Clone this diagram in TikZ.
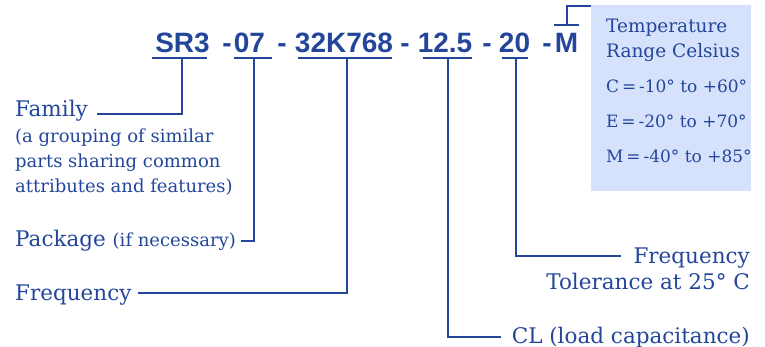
\documentclass[tikz,border=0pt]{standalone}
\usepackage{fontspec}
\setmainfont{DejaVu Serif}
\newfontfamily\partfont{Liberation Sans}
\usetikzlibrary{positioning}
\definecolor{codeblue}{RGB}{35,70,155}
\definecolor{rangefill}{RGB}{214,226,251}
\newcommand\notesize{\fontsize{18}{25}\selectfont}

\begin{document}
\begin{tikzpicture}[x=1pt, y=-1pt,
	partno/.style={font=\partfont\bfseries\fontsize{28}{28}\selectfont, text=codeblue, inner sep=0pt, anchor=base},
	desc/.style={font=\fontsize{21.5}{26}\selectfont, text=codeblue, inner sep=0pt},
	descsmall/.style={font=\notesize, text=codeblue, inner sep=0pt},
	boxtext/.style={font=\fontsize{18.5}{25}\selectfont, text=codeblue, inner sep=0pt, anchor=base west},
	rangetext/.style={boxtext, font=\fontsize{17}{25}\selectfont},
	lead/.style={draw=codeblue, line width=1.3pt}]
	\useasboundingbox (0,0) rectangle (765,347);

	\node[partno] (pfam) at (182.5,53) {SR3};
	\node[partno] (ppkg) at (249.5,53) {07};
	\node[partno] (pfreq) at (344,53) {32K768};
	\node[partno] (pcl) at (445,53) {12.5};
	\node[partno] (ptol) at (514.5,53) {20};
	\node[partno] (ptemp) at (566.5,53) {M};
	\foreach \x [count=\i] in {227,282,405,487,547}
		\node[partno] (dash\i) at (\x,53) {-};
	\draw[lead] ([xshift=-3pt,yshift=-5pt]pfam.base west) -- ([xshift=-3pt,yshift=-5pt]pfam.base east);
	\draw[lead] ([yshift=-5pt]ppkg.base west) -- ([xshift=7pt,yshift=-5pt]ppkg.base east);
	\draw[lead] ([xshift=3pt,yshift=-5pt]pfreq.base west) -- ([xshift=-1pt,yshift=-5pt]pfreq.base east);
	\draw[lead] ([xshift=5pt,yshift=-5pt]pcl.base west) -- ([yshift=-5pt]pcl.base east);
	\draw[lead] ([xshift=3pt,yshift=-5pt]ptol.base west) -- ([xshift=-2pt,yshift=-5pt]ptol.base east);
	\draw[lead] ([xshift=-1pt,yshift=28pt]ptemp.base west) -- ([xshift=1pt,yshift=28pt]ptemp.base east);

	\node[fill=rangefill, inner sep=0pt, minimum width=160, minimum height=186, anchor=north west] (trange) at (591,5) {};
	\node[boxtext, align=left] (ltemp) at (606,58) {Temperature\\Range Celsius};
	\node[rangetext] (lrc) at (606,93) {C\,=\,-10° to +60°};
	\node[rangetext] (lre) at (606,128) {E\,=\,-20° to +70°};
	\node[rangetext] (lrm) at (606,163) {M\,=\,-40° to +85°};

	\node[desc, anchor=base west] (lfam) at (15,117) {Family};
	\node[descsmall, anchor=base west, align=left] (lfamnote) at (15,193) {(a grouping of similar\\parts sharing common\\attributes and features)};
	\node[desc, anchor=base west] (lpkg) at (15,247) {Package {\notesize(if necessary)}};
	\node[desc, anchor=base west] (lfreq) at (15,300) {Frequency};
	\node[desc, anchor=base east] (ltol) at (750,263) {Frequency};
	\node[desc, anchor=base east] (ltolb) at (750,289) {Tolerance at 25° C};
	\node[desc, anchor=base east] (lcl) at (750,343) {CL (load capacitance)};

	\draw[lead] ([xshift=-0.5pt,yshift=-5pt]pfam.base) |- ([xshift=9pt,yshift=3pt]lfam.base east);
	\draw[lead] ([xshift=4.5pt,yshift=-5pt]ppkg.base) |- ([xshift=5pt,yshift=6pt]lpkg.base east);
	\draw[lead] ([xshift=3pt,yshift=-5pt]pfreq.base) |- ([xshift=6pt,yshift=7pt]lfreq.base east);
	\draw[lead] ([xshift=3pt,yshift=-5pt]pcl.base) |- ([xshift=-11pt,yshift=6pt]lcl.base west);
	\draw[lead] ([xshift=1.5pt,yshift=-5pt]ptol.base) |- ([xshift=-12pt,yshift=7pt]ltol.base west);
	\draw[lead] ([xshift=0.5pt,yshift=28pt]ptemp.base) |- ([yshift=-1pt]trange.north west);
\end{tikzpicture}
\end{document}
